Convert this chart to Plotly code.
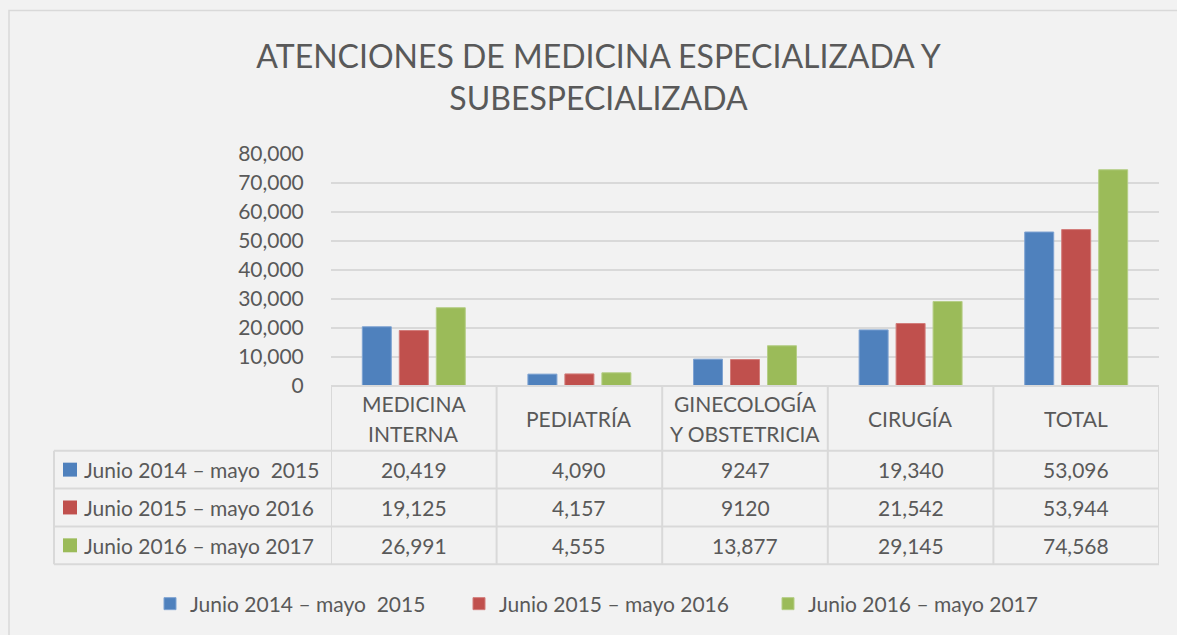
import plotly.graph_objects as go

# ---------------- data ----------------
categories = ["MEDICINA INTERNA", "PEDIATRÍA", "GINECOLOGÍA Y OBSTETRICIA", "CIRUGÍA", "TOTAL"]
category_labels = ["MEDICINA<br>INTERNA", "PEDIATRÍA", "GINECOLOGÍA<br>Y OBSTETRICIA", "CIRUGÍA", "TOTAL"]
series_names = ["Junio 2014 – mayo \u00a02015", "Junio 2015 – mayo 2016", "Junio 2016 – mayo 2017"]
values_2014_2015 = [20419, 4090, 9247, 19340, 53096]
values_2015_2016 = [19125, 4157, 9120, 21542, 53944]
values_2016_2017 = [26991, 4555, 13877, 29145, 74568]
# cells (series index, category index) shown without thousands separator in the table
plain_cells = [(0, 2), (1, 2)]
y_ticks = [0, 10000, 20000, 30000, 40000, 50000, 60000, 70000, 80000]

series_values = [values_2014_2015, values_2015_2016, values_2016_2017]
colors = ["#4F81BD", "#C0504D", "#9BBB59"]
edge_colors = ["#7EA3D2", "#D27C7A", "#B5CE86"]

# ---------------- layout geometry ----------------
W, H = 1177, 635
L, R, T, B = 331, 1159, 154, 387  # plot area in pixels
FONT = "Lato"
TXT = "#595959"
GRID = "#D9D9D9"


def px(x):
    return (x - L) / (R - L)


def py(y):
    return (B - y) / (B - T)


fig = go.Figure()
for name, vals, c, ec in zip(series_names, series_values, colors, edge_colors):
    fig.add_trace(go.Bar(x=categories, y=vals, name=name,
                         marker=dict(color=c, line=dict(color=ec, width=1))))

shapes = []
# outer chart border
shapes.append(dict(type="rect", xref="paper", yref="paper",
                   x0=px(9), x1=px(1210), y0=py(10), y1=py(680),
                   line=dict(color=GRID, width=1.5), fillcolor="rgba(0,0,0,0)", layer="below"))

row_lines = [452, 490, 528, 566]
row_centers = [471, 509, 547]
tline = dict(color=GRID, width=2)
# header top line
shapes.append(dict(type="line", xref="x", yref="paper", x0=-0.5, x1=len(categories) - 0.5,
                   y0=py(387), y1=py(387), line=tline))
for yl in row_lines:
    shapes.append(dict(type="line", xref="paper", yref="paper", x0=px(54), x1=px(1159),
                       y0=py(yl), y1=py(yl), line=tline))
for i in range(len(categories) + 1):
    shapes.append(dict(type="line", xref="x", yref="paper", x0=i - 0.5, x1=i - 0.5,
                       y0=py(387), y1=py(566), line=tline))
shapes.append(dict(type="line", xref="paper", yref="paper", x0=px(54), x1=px(54),
                   y0=py(452), y1=py(566), line=tline))
# legend keys in table
for rc, c in zip(row_centers, colors):
    shapes.append(dict(type="rect", xref="paper", yref="paper", x0=px(63), x1=px(77),
                       y0=py(rc - 7), y1=py(rc + 7), line=dict(width=0), fillcolor=c))

annotations = []
for cat, lab in zip(categories, category_labels):
    lines = lab.split("<br>")
    n = len(lines)
    for k, ln in enumerate(lines):
        annotations.append(dict(x=cat, xref="x", y=py(420 + (k - (n - 1) / 2) * 30), yref="paper",
                                text=ln, showarrow=False, xanchor="center", yanchor="middle",
                                font=dict(family=FONT, size=21, color=TXT)))
for si, (rc, name, vals) in enumerate(zip(row_centers, series_names, series_values)):
    annotations.append(dict(x=px(82), xref="paper", y=py(rc), yref="paper", text=name,
                            showarrow=False, xanchor="left", yanchor="middle",
                            font=dict(family=FONT, size=21, color=TXT)))
    for ci, (cat, v) in enumerate(zip(categories, vals)):
        txt = str(v) if (si, ci) in plain_cells else f"{v:,}"
        annotations.append(dict(x=cat, xref="x", y=py(rc), yref="paper", text=txt,
                                showarrow=False, xanchor="center", yanchor="middle",
                                font=dict(family=FONT, size=21, color=TXT)))

fig.update_layout(
    width=W, height=H,
    margin=dict(l=L, r=W - R, t=T, b=H - B, pad=0),
    paper_bgcolor="#F2F2F2", plot_bgcolor="#F2F2F2",
    title=dict(text="ATENCIONES DE MEDICINA ESPECIALIZADA Y<br>SUBESPECIALIZADA",
               x=598.5 / W, xref="container", xanchor="center",
               y=1 - 68 / H, yref="container", yanchor="middle",
               font=dict(family=FONT, size=32, color=TXT)),
    barmode="group", bargap=0.33, bargroupgap=0.216,
    xaxis=dict(showticklabels=False, showgrid=False, zeroline=False, showline=False,
               range=[-0.5, len(categories) - 0.5], fixedrange=True),
    yaxis=dict(range=[0, 80000], tickvals=y_ticks, tickformat=",", showgrid=True,
               gridcolor=GRID, gridwidth=1.5, zeroline=False, showline=False,
               ticks="outside", ticklen=22, tickcolor="rgba(0,0,0,0)",
               tickfont=dict(family=FONT, size=21, color=TXT), fixedrange=True),
    legend=dict(orientation="h", x=px(150), xanchor="left", xref="paper",
                y=py(604), yanchor="middle", yref="paper",
                entrywidth=264, entrywidthmode="pixels",
                bgcolor="rgba(0,0,0,0)", font=dict(family=FONT, size=21, color=TXT)),
    shapes=shapes, annotations=annotations,
    showlegend=True,
)

fig.write_html("out.html", config={"displayModeBar": False},
               post_script="document.body.style.margin='0';document.body.style.overflow='hidden';")
